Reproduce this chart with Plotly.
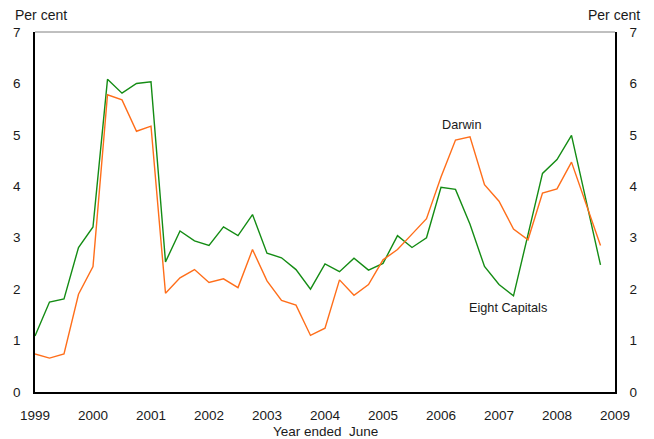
import plotly.graph_objects as go

# Quarterly observations, year-ended inflation (per cent), June 1999 to March 2009
start_year = 1999
n_quarters = 40
quarters = [start_year + 0.25 * k for k in range(n_quarters)]

eight_capitals = [1.09, 1.75, 1.81, 2.81, 3.21, 6.08, 5.81, 6.00, 6.03, 2.53,
                  3.13, 2.94, 2.85, 3.21, 3.04, 3.45, 2.70, 2.61, 2.38, 2.00,
                  2.49, 2.34, 2.60, 2.37, 2.50, 3.04, 2.81, 3.00, 3.98, 3.94,
                  3.26, 2.44, 2.09, 1.87, 3.06, 4.25, 4.52, 4.99, 3.73, 2.47]

darwin = [0.74, 0.66, 0.74, 1.90, 2.44, 5.78, 5.68, 5.07, 5.17, 1.92,
          2.22, 2.38, 2.13, 2.20, 2.03, 2.77, 2.16, 1.78, 1.69, 1.10,
          1.24, 2.18, 1.88, 2.09, 2.57, 2.77, 3.07, 3.37, 4.18, 4.90,
          4.96, 4.03, 3.71, 3.17, 2.96, 3.87, 3.95, 4.47, 3.66, 2.85]

year_ticks = list(range(1999, 2010))
y_ticks = list(range(0, 8))

GREEN = "#148c14"
ORANGE = "#ff6e1a"
FONT = "Liberation Sans, Arial, sans-serif"
TXT = "#1a1a1a"

fig = go.Figure()
fig.add_trace(go.Scatter(x=quarters, y=eight_capitals, mode="lines",
                         line=dict(color=GREEN, width=1.4), name="Eight Capitals",
                         hoverinfo="skip"))
fig.add_trace(go.Scatter(x=quarters, y=darwin, mode="lines",
                         line=dict(color=ORANGE, width=1.4), name="Darwin",
                         hoverinfo="skip"))
# invisible trace to activate the right-hand axis
fig.add_trace(go.Scatter(x=[quarters[0]], y=[0], yaxis="y2", mode="markers",
                         marker=dict(opacity=0), showlegend=False, hoverinfo="skip"))

tick_font = dict(family=FONT, size=13.5, color=TXT)

fig.update_layout(
    width=654, height=439,
    margin=dict(l=35, r=39, t=32, b=47),
    paper_bgcolor="white", plot_bgcolor="white",
    showlegend=False,
    xaxis=dict(range=[1999, 2009], tickvals=year_ticks, ticktext=[str(y) for y in year_ticks],
               showgrid=False, zeroline=False, showline=True, linecolor="black",
               linewidth=1.5, ticks="", tickfont=tick_font, ticklabelstandoff=10),
    yaxis=dict(range=[0, 7], tickvals=y_ticks, showgrid=False, zeroline=False,
               showline=True, linecolor="black", linewidth=1.5, ticks="",
               tickfont=tick_font, ticklabelstandoff=10),
    yaxis2=dict(range=[0, 7], tickvals=y_ticks, overlaying="y", side="right",
                showgrid=False, zeroline=False, showline=True, linecolor="black",
                linewidth=1.5, ticks="", tickfont=tick_font, ticklabelstandoff=10),
    shapes=[dict(type="line", xref="paper", yref="paper", x0=0, x1=1, y0=1, y1=1,
                 line=dict(color="#808080", width=1))],
    annotations=[
        dict(text="Per cent", xref="paper", yref="paper", x=-0.038, y=1.0, yshift=17,
             xanchor="left", yanchor="middle", showarrow=False,
             font=dict(family=FONT, size=14, color=TXT)),
        dict(text="Per cent", xref="paper", yref="paper", x=1.0466, y=1.0, yshift=17,
             xanchor="right", yanchor="middle", showarrow=False,
             font=dict(family=FONT, size=14, color=TXT)),
        dict(text="Year ended  June", xref="paper", yref="paper", x=0.5, y=0, yshift=-39,
             xanchor="center", yanchor="middle", showarrow=False,
             font=dict(family=FONT, size=13.5, color=TXT)),
        dict(text="Darwin", x=2006.35, y=5.2, xanchor="center", yanchor="middle",
             showarrow=False, font=dict(family=FONT, size=12.7, color=TXT)),
        dict(text="Eight Capitals", x=2007.15, y=1.64, xanchor="center", yanchor="middle",
             showarrow=False, font=dict(family=FONT, size=12.7, color=TXT)),
    ],
)

fig.write_html("out.html")
